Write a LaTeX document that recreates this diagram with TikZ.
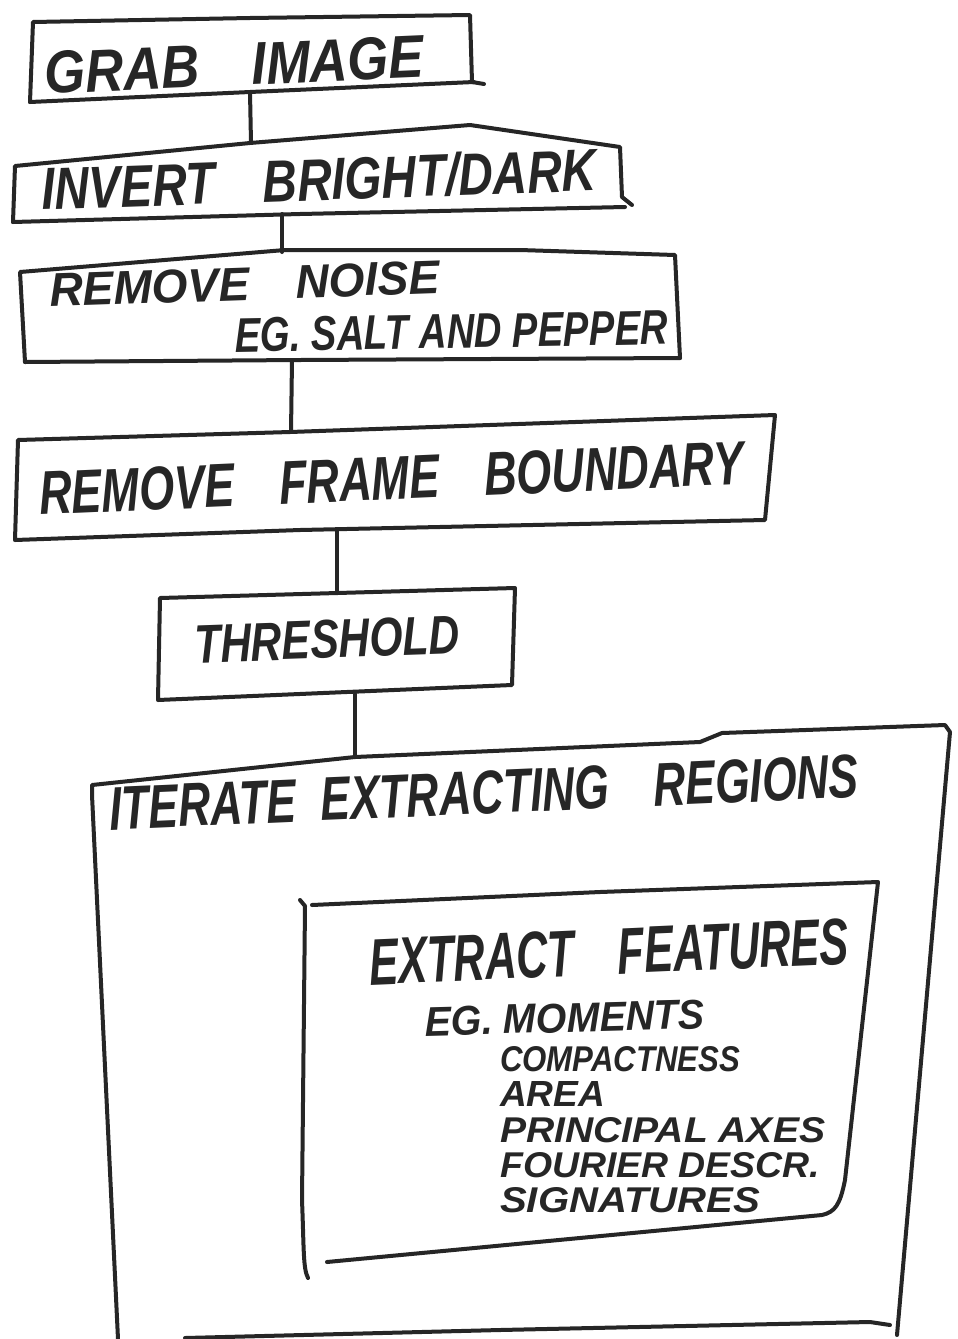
\documentclass[tikz,border=0pt]{standalone}
\usepackage{fontspec}
\setmainfont{Liberation Sans}
\usepackage{graphicx}
\newcommand{\hwtext}[3]{\resizebox{#1pt}{#2pt}{\bfseries\itshape #3}}
\begin{document}
\begin{tikzpicture}[x=1pt,y=-1pt,
  ink/.style={line width=4pt,line join=round,line cap=round,draw=black!85},
  lbl/.style={inner sep=0pt,anchor=base west,text=black!85}]
\useasboundingbox (0,0) rectangle (958,1339);
\fill[white] (0,0) rectangle (958,1339);

% boxes (hand-drawn outlines)
\draw[ink] (30,102) -- (33,22) -- (250,18) -- (470,15) -- (472,82) -- (484,84);
\draw[ink] (474,82) -- (250,92) -- (30,102);

\draw[ink] (13,222) -- (15,166) -- (250,143) -- (470,125) -- (620,147) -- (622,197) -- (632,205);
\draw[ink] (625,207) -- (300,214) -- (13,222);

\draw[ink] (25,362) -- (20,272) -- (285,250) -- (520,250) -- (675,255) -- (680,358);
\draw[ink] (680,358) -- (300,360) -- (25,362);

\draw[ink] (15,540) -- (18,440) -- (290,432) -- (775,415) -- (765,520) -- (300,530) -- (15,540);

\draw[ink] (158,700) -- (160,598) -- (515,588) -- (512,685) -- (158,700);

\draw[ink] (118,1339) -- (92,795) -- (92,785) -- (355,757) -- (700,742) -- (722,733) -- (945,725) -- (950,732) -- (897,1335);
\draw[ink] (185,1338) -- (500,1330) -- (870,1322) -- (890,1325);

\draw[ink] (300,900) -- (305,906) -- (302,1200) .. controls (304,1250) and (303,1268) .. (308,1278);
\draw[ink] (312,905) -- (600,892) -- (878,882) -- (845,1180) .. controls (840,1205) and (835,1212) .. (822,1215) -- (327,1262);

% connectors
\coordinate (c1a) at (250,92);  \coordinate (c1b) at (251,143);
\coordinate (c2a) at (282,214); \coordinate (c2b) at (282,252);
\coordinate (c3a) at (292,360); \coordinate (c3b) at (291,432);
\coordinate (c4a) at (337,530); \coordinate (c4b) at (337,592);
\coordinate (c5a) at (355,694); \coordinate (c5b) at (355,757);
\draw[ink] (c1a) -- (c1b);
\draw[ink] (c2a) -- (c2b);
\draw[ink] (c3a) -- (c3b);
\draw[ink] (c4a) -- (c4b);
\draw[ink] (c5a) -- (c5b);

% labels
\node[lbl,rotate=2.5] (t1) at (45,94) {\hwtext{380}{42}{GRAB\quad IMAGE}};
\node[lbl,rotate=2] (t2) at (42,210) {\hwtext{555}{43}{INVERT\quad BRIGHT/DARK}};
\node[lbl,rotate=2] (t3a) at (50,307) {\hwtext{390}{33}{REMOVE\quad NOISE}};
\node[lbl,rotate=1] (t3b) at (235,352) {\hwtext{433}{34}{EG. SALT AND PEPPER}};
\node[lbl,rotate=2.5] (t4) at (40,515) {\hwtext{705}{43}{REMOVE\quad FRAME\quad BOUNDARY}};
\node[lbl,rotate=2] (t5) at (195,663) {\hwtext{265}{38}{THRESHOLD}};
\node[lbl,rotate=2.5] (t6) at (110,830) {\hwtext{750}{43}{ITERATE\ \ EXTRACTING\quad REGIONS}};
\node[lbl,rotate=2.5] (t7) at (370,985) {\hwtext{480}{46}{EXTRACT\quad FEATURES}};
\node[lbl,rotate=1.5] (t8) at (425,1036) {\hwtext{280}{29}{EG. MOMENTS}};
\node[lbl] (t9) at (500,1071) {\hwtext{240}{25}{COMPACTNESS}};
\node[lbl] (t10) at (500,1106) {\hwtext{105}{25}{AREA}};
\node[lbl] (t11) at (500,1142) {\hwtext{325}{25}{PRINCIPAL AXES}};
\node[lbl] (t12) at (500,1177) {\hwtext{320}{25}{FOURIER DESCR.}};
\node[lbl] (t13) at (500,1212) {\hwtext{260}{25}{SIGNATURES}};
\end{tikzpicture}
\end{document}
